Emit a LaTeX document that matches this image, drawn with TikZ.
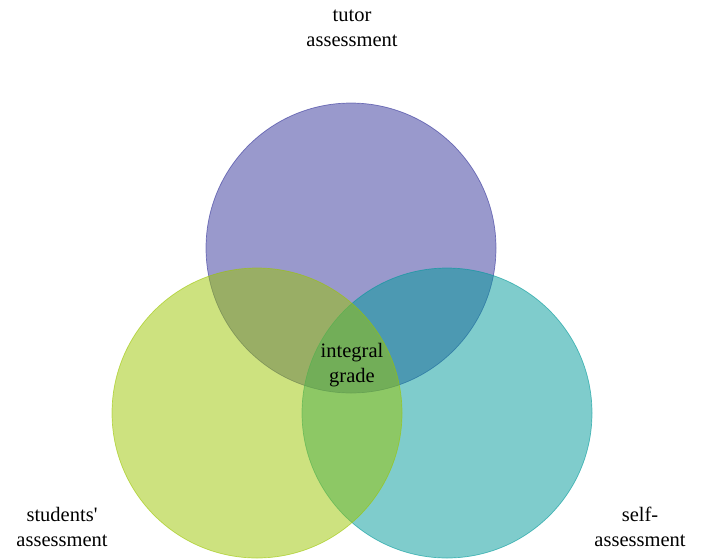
\documentclass[tikz,border=0pt]{standalone}
\usepackage{fontspec}
\setmainfont{Liberation Serif}
\definecolor{tutorcolor}{RGB}{51,51,153}
\definecolor{selfcolor}{RGB}{0,153,153}
\definecolor{studentcolor}{RGB}{155,197,0}
\def \radius {145}
\tikzset{
  venn/.style={fill=#1, fill opacity=0.5, draw=#1, draw opacity=0.6, line width=0.7pt},
  lbl/.style={align=center, inner sep=0pt, font=\fontsize{20.5}{25}\selectfont}
}

\begin{document}
\begin{tikzpicture}[x=1pt,y=-1pt]
\useasboundingbox (0,0) rectangle (706,558);
\clip (0,0) rectangle (706,558);
% Draw the three circles
\draw[venn=tutorcolor] (351,248) circle (\radius pt);
\draw[venn=selfcolor] (447,413) circle (\radius pt);
\draw[venn=studentcolor] (257,413) circle (\radius pt);
% Labels
\node[lbl] (tutor) at (352,28) {tutor\\assessment};
\node[lbl] (students) at (62,527) {students\textquotesingle\\assessment};
\node[lbl] (self) at (640,527) {self-\\assessment};
\node[lbl] (integral) at (352,365) {integral\\grade};
\end{tikzpicture}
\end{document}
